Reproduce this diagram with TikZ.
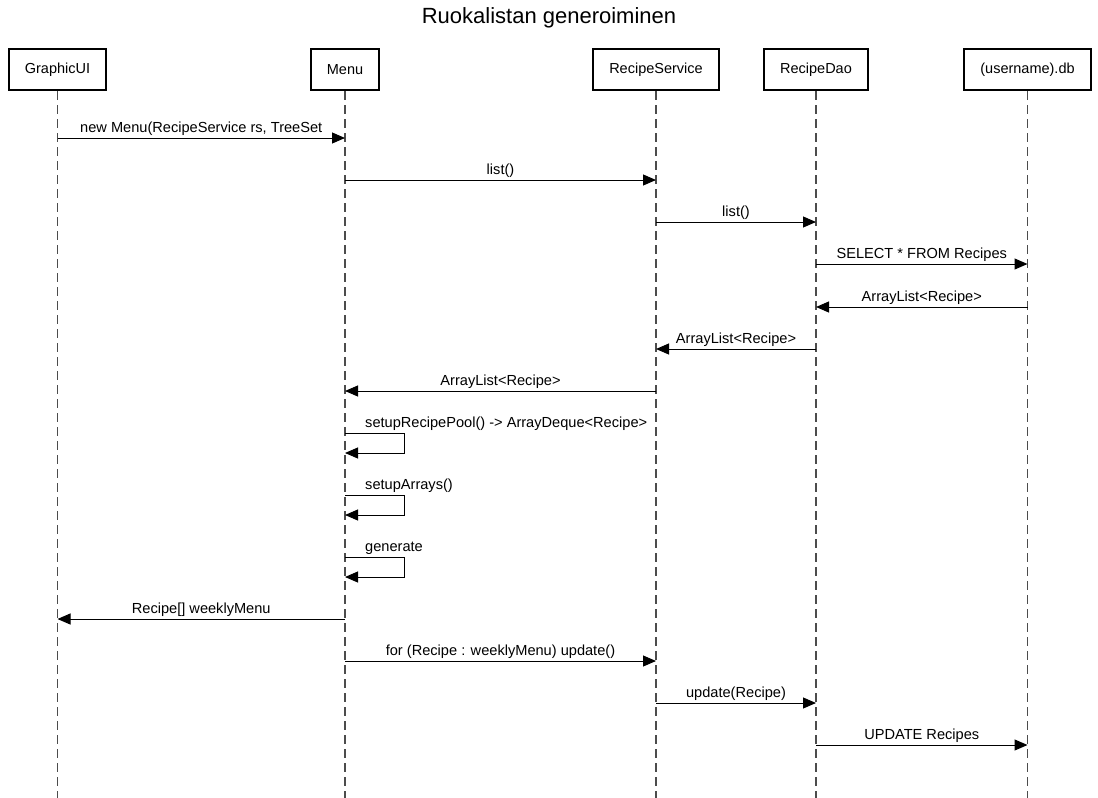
\documentclass[tikz,border=0pt]{standalone}
\usepackage{fontspec}
\setmainfont{Liberation Sans}
\usetikzlibrary{arrows.meta}
\begin{document}
\begin{tikzpicture}[x=1pt,y=-1pt,
  actor/.style={draw=black,line width=2pt,minimum height=41pt,inner sep=0pt,font=\fontsize{14.5}{17}\selectfont,anchor=north west},
  life/.style={draw=black!70,line width=1.2pt,dash pattern=on 9pt off 5pt},
  msg/.style={draw=black,line width=1pt,-{Triangle[length=13pt,width=11pt]}},
  lbl/.style={font=\fontsize{14.6}{17}\selectfont,inner sep=0pt,anchor=base},
  slbl/.style={font=\fontsize{14.6}{17}\selectfont,inner sep=0pt,anchor=base west}]
\useasboundingbox (0,0) rectangle (1098,798);
\node[font=\fontsize{22}{26}\selectfont,inner sep=0pt,anchor=base] (title) at (549,23) {Ruokalistan generoiminen};
\node[actor,minimum width=97pt] (gui) at (8,48) {GraphicUI};
\node[actor,minimum width=68pt] (menu) at (310,48) {Menu};
\node[actor,minimum width=126pt] (rs) at (592,48) {RecipeService};
\node[actor,minimum width=104pt] (dao) at (763,48) {RecipeDao};
\node[actor,minimum width=127pt] (db) at (963,48) {(username).db};
\coordinate (bot) at (0,798);
\foreach \a in {gui,menu,rs,dao,db}{\draw[life] (\a.south) -- (\a |- bot);}
% message rows
\foreach \n/\y in {m1/138,m2/180,m3/222,m4/264,m5/307,m6/349,m7/391,s1a/433,s1b/453,s2a/495,s2b/515,s3a/557,s3b/577,m8/619,m9/661,m10/703,m11/745}{\coordinate (\n) at (0,\y);}
\coordinate (selfx) at (404,0);
\draw[msg] (gui |- m1) -- node[lbl,yshift=6pt]{new Menu(RecipeService rs, TreeSet} (menu |- m1);
\draw[msg] (menu |- m2) -- node[lbl,yshift=6pt]{list()} (rs |- m2);
\draw[msg] (rs |- m3) -- node[lbl,yshift=6pt]{list()} (dao |- m3);
\draw[msg] (dao |- m4) -- node[lbl,yshift=6pt]{SELECT * FROM Recipes} (db |- m4);
\draw[msg] (db |- m5) -- node[lbl,yshift=6pt]{ArrayList<Recipe>} (dao |- m5);
\draw[msg] (dao |- m6) -- node[lbl,yshift=6pt]{ArrayList<Recipe>} (rs |- m6);
\draw[msg] (rs |- m7) -- node[lbl,yshift=6pt]{ArrayList<Recipe>} (menu |- m7);
\draw[msg] (menu |- s1a) -- (selfx |- s1a) -- (selfx |- s1b) -- (menu |- s1b);
\node[slbl] (l1) at ([xshift=20pt,yshift=6pt]menu |- s1a) {setupRecipePool() -> ArrayDeque<Recipe>};
\draw[msg] (menu |- s2a) -- (selfx |- s2a) -- (selfx |- s2b) -- (menu |- s2b);
\node[slbl] (l2) at ([xshift=20pt,yshift=6pt]menu |- s2a) {setupArrays()};
\draw[msg] (menu |- s3a) -- (selfx |- s3a) -- (selfx |- s3b) -- (menu |- s3b);
\node[slbl] (l3) at ([xshift=20pt,yshift=6pt]menu |- s3a) {generate};
\draw[msg] (menu |- m8) -- node[lbl,yshift=6pt]{Recipe[] weeklyMenu} (gui |- m8);
\draw[msg] (menu |- m9) -- node[lbl,yshift=6pt]{for (Recipe : weeklyMenu) update()} (rs |- m9);
\draw[msg] (rs |- m10) -- node[lbl,yshift=6pt]{update(Recipe)} (dao |- m10);
\draw[msg] (dao |- m11) -- node[lbl,yshift=6pt]{UPDATE Recipes} (db |- m11);
\end{tikzpicture}
\end{document}
